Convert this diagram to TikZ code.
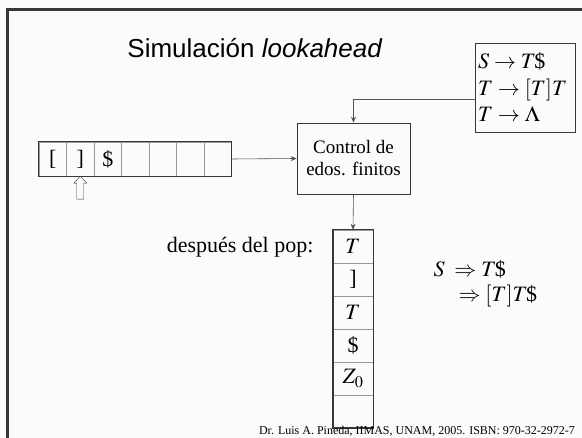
\documentclass[tikz,border=0pt]{standalone}
\usepackage{mathptmx}
\usepackage{fontspec}
\setmainfont{Liberation Serif}
\setsansfont{Liberation Sans}
\usetikzlibrary{arrows.meta,positioning}
\definecolor{marco}{RGB}{55,55,55}
\definecolor{linea}{RGB}{85,85,85}
\definecolor{fondo}{RGB}{251,251,249}
\newcommand{\tam}[1]{\fontsize{#1}{#1}\selectfont}
\newcommand{\dol}{\kern-1.5pt\mbox{\$}}

\begin{document}
\begin{tikzpicture}[x=1pt,y=-1pt,
  celda/.style={draw=gray!80,minimum width=27.5pt,minimum height=34pt,inner sep=0pt,font=\tam{22}},
  pila/.style={draw=gray!80,minimum width=40pt,minimum height=33pt,inner sep=0pt,font=\tam{22}},
  caja/.style={draw=marco,semithick,inner sep=3pt},
  flecha/.style={draw=linea,semithick,-{Stealth[length=6pt,width=5pt]}}
]
  \clip (0,0) rectangle (582,438);
  \fill[fondo] (0,0) rectangle (582,438);
  \draw[marco,line width=3pt] (7,470) -- (7,10) -- (600,10);
  % Titulo
  \node[font=\sffamily\tam{26}] (tit) at (255,48) {Simulación \textit{lookahead}};
  % Cinta de entrada
  \foreach \s [count=\i] in {{[},{]},{\$},{},{},{},{}}
    \node[celda] (c\i) at ({25.25+27.5*\i},159) {\s};
  \draw[marco,thick] (c1.north west) rectangle (c7.south east);
  % cabeza lectora
  \draw[marco,fill=fondo] (c2.south) ++(-3.5,23) -- ++(0,-16) -- ++(-3,0) -- ++(6.5,-7)
    -- ++(6.5,7) -- ++(-3,0) -- ++(0,16) -- cycle;
  % Control
  \node[caja,minimum width=113pt,minimum height=71pt,align=center,
    font=\fontsize{19}{22}\selectfont] (ctrl) at (353.5,158.5) {Control de\\edos. finitos};
  % Gramatica
  \node[caja,minimum width=100pt,minimum height=89pt,text width=94pt,align=left,
    font=\fontsize{22}{26.5}\selectfont] (gram) at (525,87.5)
    {$S\rightarrow T$\dol\\$T\rightarrow[T]T$\\$T\rightarrow\Lambda$};
  % Pila
  \foreach \s [count=\i] in {{$T$},{]},{$T$},{\$},{$Z_0$},{}}
    \node[pila] (s\i) at (353,{213.5+33*\i}) {\s};
  \draw[marco,line width=1.4pt] (s1.north west) rectangle (s6.south east);
  \node[anchor=base east,font=\tam{22}] (pop) at (317,253) {después del pop:};
  % Derivacion
  \node[anchor=base west,font=\tam{22}] (d1) at (430,277) {$S\;\Rightarrow T$\dol};
  \node[anchor=base west,font=\tam{22}] (d2) at (455,302) {$\Rightarrow[T]T$\dol};
  % Conectores
  \draw[flecha] (c7.east) -- (ctrl.west);
  \draw[flecha] ([yshift=-11.5pt]gram.west) -| (ctrl.north);
  \draw[flecha] (ctrl.south) -- (s1.north);
  \node[anchor=base,font=\tam{12}] (pie) at (417,434.5)
    {Dr. Luis A. Pineda, IIMAS, UNAM, 2005. ISBN: 970-32-2972-7};
\end{tikzpicture}
\end{document}
